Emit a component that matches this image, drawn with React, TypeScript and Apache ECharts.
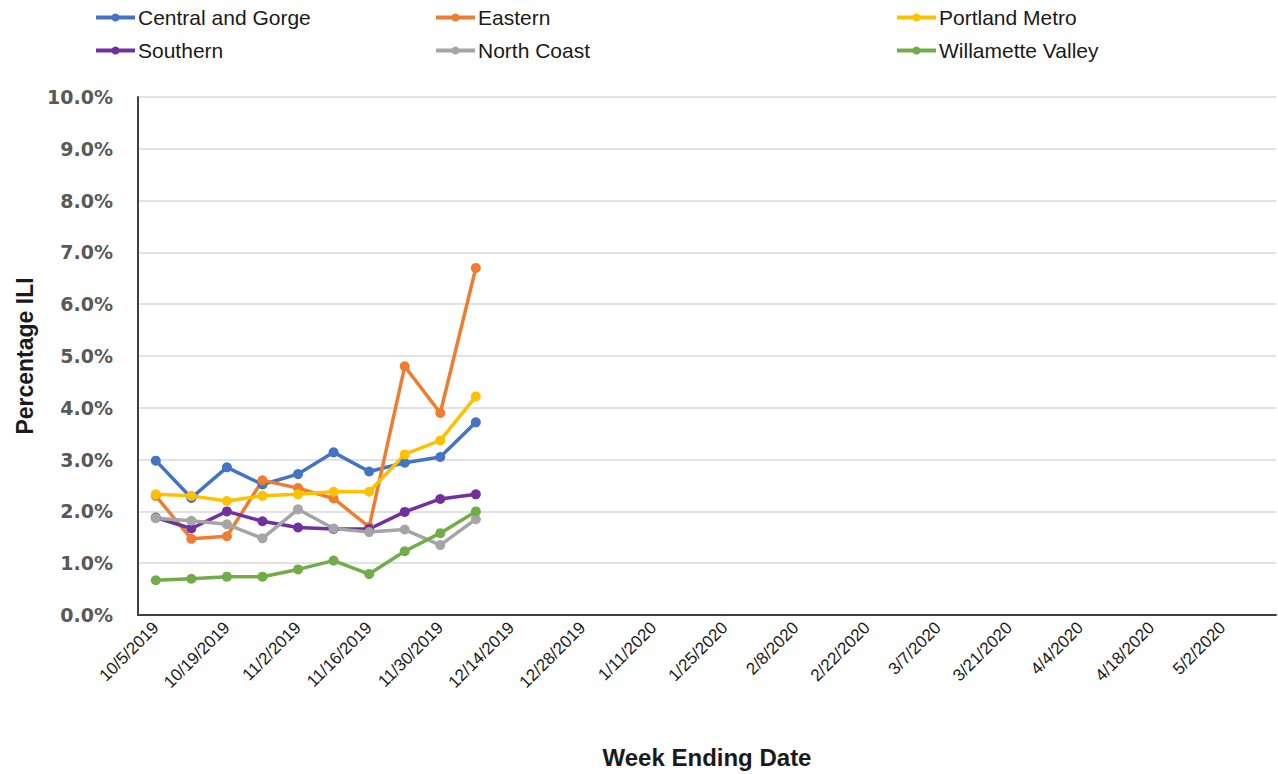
import React, { useEffect, useRef } from "react";
import * as echarts from "echarts";

const weeks = [
  "10/5/2019", "10/12/2019", "10/19/2019", "10/26/2019", "11/2/2019", "11/9/2019",
  "11/16/2019", "11/23/2019", "11/30/2019", "12/7/2019", "12/14/2019", "12/21/2019",
  "12/28/2019", "1/4/2020", "1/11/2020", "1/18/2020", "1/25/2020", "2/1/2020",
  "2/8/2020", "2/15/2020", "2/22/2020", "2/29/2020", "3/7/2020", "3/14/2020",
  "3/21/2020", "3/28/2020", "4/4/2020", "4/11/2020", "4/18/2020", "4/25/2020",
  "5/2/2020", "5/9/2020",
];

const centralGorge = [2.98, 2.26, 2.85, 2.52, 2.72, 3.14, 2.77, 2.94, 3.05, 3.72];
const eastern = [2.3, 1.47, 1.52, 2.6, 2.45, 2.25, 1.7, 4.8, 3.9, 6.7];
const portlandMetro = [2.33, 2.3, 2.2, 2.3, 2.33, 2.38, 2.38, 3.1, 3.37, 4.22];
const southern = [1.88, 1.67, 2.0, 1.81, 1.69, 1.66, 1.66, 1.99, 2.24, 2.33];
const northCoast = [1.87, 1.82, 1.75, 1.48, 2.04, 1.67, 1.6, 1.65, 1.35, 1.85];
const willametteValley = [0.67, 0.7, 0.74, 0.74, 0.88, 1.05, 0.79, 1.23, 1.58, 2.0];

const seriesDefs = [
  { name: "Central and Gorge", data: centralGorge, color: "#4472C4" },
  { name: "Eastern", data: eastern, color: "#ED7D31" },
  { name: "Portland Metro", data: portlandMetro, color: "#FFC000" },
  { name: "Southern", data: southern, color: "#7030A0" },
  { name: "North Coast", data: northCoast, color: "#A5A5A5" },
  { name: "Willamette Valley", data: willametteValley, color: "#70AD47" },
];

const legendPos = [
  { left: 94, top: 7 },
  { left: 434, top: 7 },
  { left: 895, top: 7 },
  { left: 94, top: 40 },
  { left: 434, top: 40 },
  { left: 895, top: 40 },
];

const FONT = "'Liberation Sans', 'Noto Sans', sans-serif";

export default function App() {
  const ref = useRef<HTMLDivElement>(null);
  useEffect(() => {
    if (!ref.current) return;
    const chart = echarts.init(ref.current, null, { renderer: "svg" });
    chart.setOption({
      animation: false,
      backgroundColor: "#ffffff",
      textStyle: { fontFamily: FONT },
      legend: seriesDefs.map((s, i) => ({
        data: [s.name],
        left: legendPos[i].left,
        top: legendPos[i].top,
        padding: 0,
        itemWidth: 39,
        itemHeight: 10,
        itemGap: 4,
        lineStyle: { width: 4 },
        textStyle: { fontSize: 21, color: "#1a1a1a", fontFamily: FONT, padding: [0, 0, 0, -2] },
      })),
      grid: { left: 138, right: 2, top: 97, bottom: 158, containLabel: false },
      xAxis: {
        type: "category",
        data: weeks,
        boundaryGap: true,
        name: "Week Ending Date",
        nameLocation: "middle",
        nameGap: 130,
        nameTextStyle: { fontSize: 24, fontWeight: "bold", color: "#1a1a1a", fontFamily: FONT },
        axisLine: { show: true, lineStyle: { color: "#404040", width: 2 } },
        axisTick: { show: false },
        axisLabel: {
          interval: 1,
          rotate: 45,
          fontSize: 17,
          color: "#1a1a1a",
          margin: 10,
          fontFamily: FONT,
        },
        splitLine: { show: false },
      },
      yAxis: {
        type: "value",
        min: 0,
        max: 10,
        interval: 1,
        name: "Percentage ILI",
        nameLocation: "middle",
        nameGap: 98,
        nameTextStyle: { fontSize: 23, fontWeight: "bold", color: "#1a1a1a", fontFamily: FONT },
        axisLine: { show: true, lineStyle: { color: "#404040", width: 2 } },
        axisTick: { show: false },
        axisLabel: {
          formatter: (v: number) => v.toFixed(1) + "%",
          fontSize: 19,
          fontWeight: "bold",
          color: "#595959",
          margin: 25,
          fontFamily: "'DejaVu Sans', sans-serif",
        },
        splitLine: { show: true, lineStyle: { color: "#D9D9D9", width: 1.5 } },
      },
      series: seriesDefs.map((s) => ({
        name: s.name,
        type: "line",
        data: s.data,
        color: s.color,
        symbol: "circle",
        symbolSize: 10,
        lineStyle: { width: 3.5, color: s.color },
        itemStyle: { color: s.color },
      })),
    });
    return () => chart.dispose();
  }, []);
  return (
    <div
      ref={ref}
      style={{ position: "fixed", left: 0, top: 0, width: 1278, height: 774 }}
    />
  );
}
